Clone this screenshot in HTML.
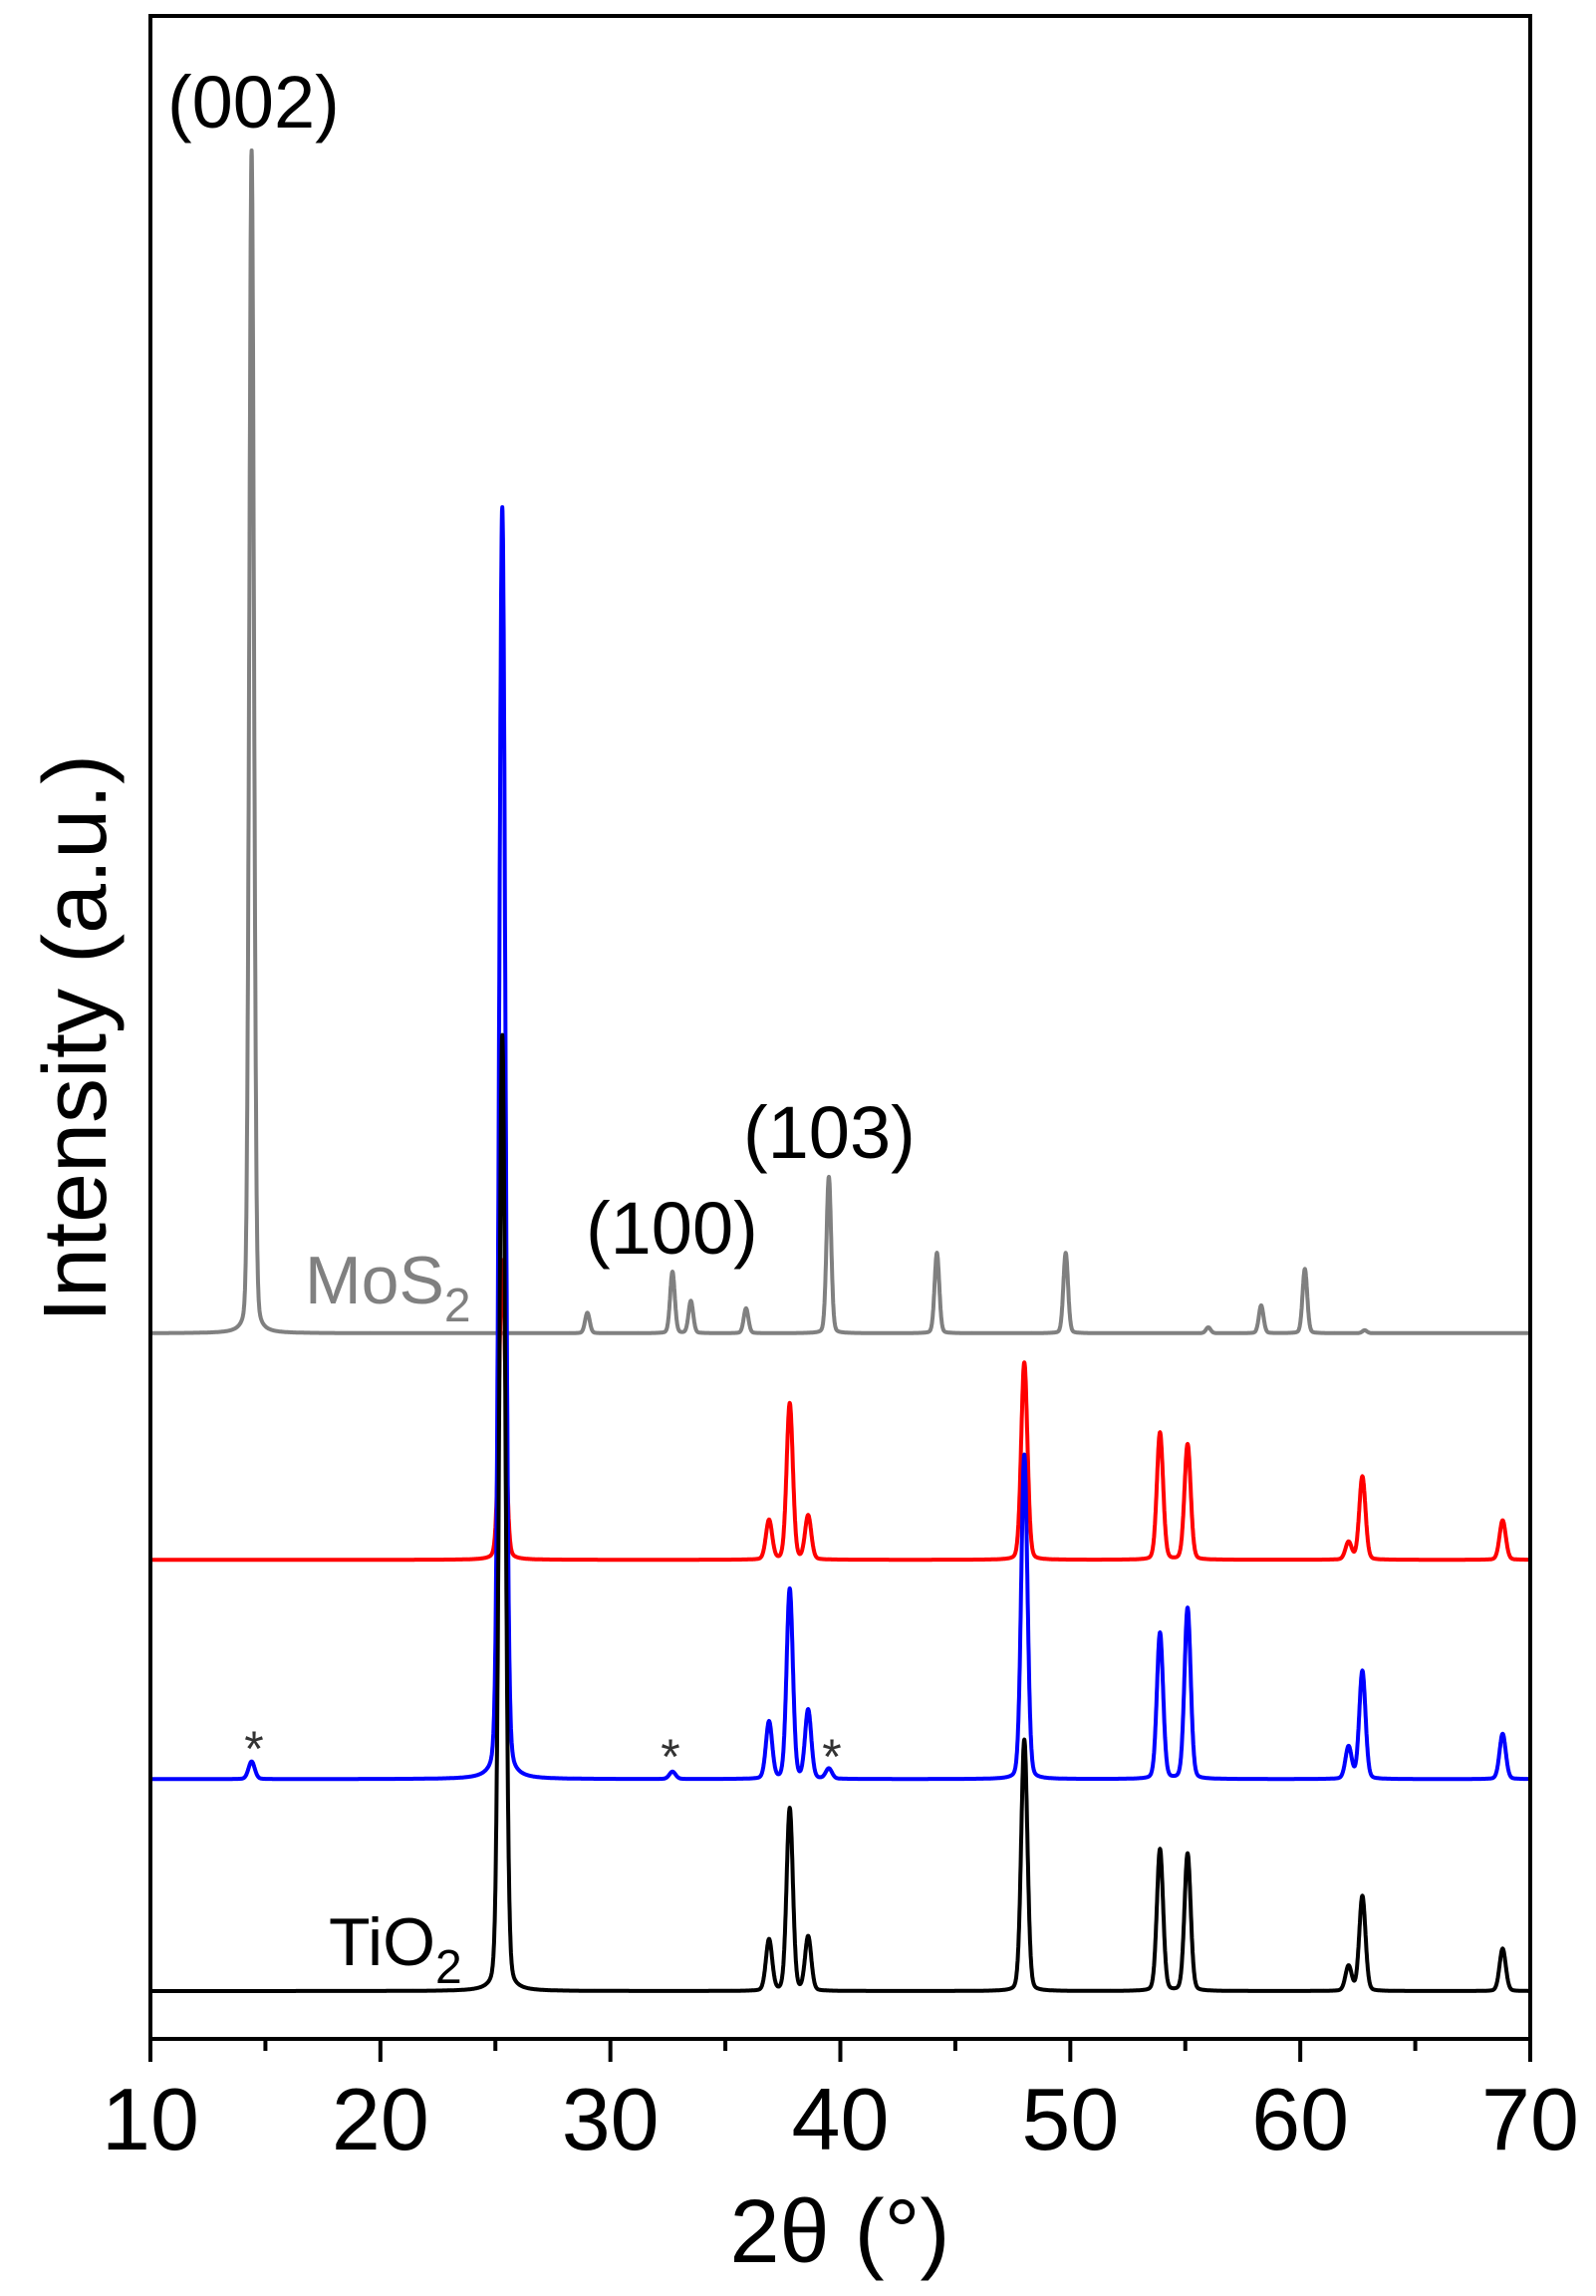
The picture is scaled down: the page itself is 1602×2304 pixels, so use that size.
<!DOCTYPE html>
<html><head><meta charset="utf-8"><style>
html,body{margin:0;padding:0;background:#fff;}
svg{display:block;font-family:"Liberation Sans",Arial,sans-serif;}
</style></head><body>
<svg id="chart" width="1602" height="2304" viewBox="0 0 1602 2304" xmlns="http://www.w3.org/2000/svg">
<g id="series"></g>
<g id="axes"></g>
<text x="168" y="128" font-size="74" fill="#000">(002)</text>
<text x="588" y="1258" font-size="74" fill="#000">(100)</text>
<text x="746" y="1162" font-size="74" fill="#000">(103)</text>
<text x="306" y="1308" font-size="68" fill="#808080">MoS<tspan font-size="48" dy="18">2</tspan></text>
<text x="330" y="1972" font-size="68" fill="#000">TiO<tspan font-size="48" dy="18">2</tspan></text>
<text x="255" y="1772" font-size="50" fill="#333" text-anchor="middle">*</text>
<text x="673" y="1780" font-size="50" fill="#333" text-anchor="middle">*</text>
<text x="835" y="1780" font-size="50" fill="#333" text-anchor="middle">*</text>
<text x="843" y="2270" font-size="90" text-anchor="middle" fill="#000">2θ (°)</text>
<text transform="translate(106,1042) rotate(-90)" font-size="90" text-anchor="middle" fill="#000">Intensity (a.u.)</text>
</svg>
<script>
const xTicks = [10, 20, 30, 40, 50, 60, 70];
const xMinor = [15, 25, 35, 45, 55, 65];
// peak positions (deg) and heights (a.u.) per series
const mosPos = [14.4, 29.0, 32.7, 33.5, 35.9, 39.5, 44.2, 49.8, 56.0, 58.3, 60.2, 62.8];
const mosH   = [809, 14, 42, 22, 17, 107, 55, 55, 4, 19, 44, 2];
const redPos = [25.3, 36.9, 37.8, 38.6, 48.0, 53.9, 55.1, 62.1, 62.7, 68.8];
const redH   = [205, 27, 107, 30, 135, 87, 79, 12, 57, 27];
const bluePos = [14.4, 25.3, 32.7, 36.9, 37.8, 38.6, 39.5, 48.0, 53.9, 55.1, 62.1, 62.7, 68.8];
const blueH   = [12, 870, 5, 39, 130, 47, 7, 222, 100, 117, 22, 74, 31];
const tiPos = [25.3, 36.9, 37.8, 38.6, 48.0, 53.9, 55.1, 62.1, 62.7, 68.8];
const tiH   = [654, 35, 125, 37, 172, 97, 94, 17, 65, 29];
const offsets = [450, 295, 145, 0]; // stacking offsets (a.u.): mos, red, blue, tio2

const X0 = 151, X1 = 1536, Y0 = 16, Y1 = 2046, BASE = 1998, K = 1.467;
const xs = v => X0 + (v - 10) / 60 * (X1 - X0);
const ys = v => BASE - v * K;
const NS = 'http://www.w3.org/2000/svg';
const sg = document.getElementById('series');
const ag = document.getElementById('axes');

function profile(x, pos, h, w) {
  let s = 0;
  for (let i = 0; i < pos.length; i++) {
    const d = (x - pos[i]) / w;
    s += h[i] * (0.85 * Math.exp(-d * d * 0.693) + 0.15 / (1 + d * d));
  }
  return s;
}
function drawSeries(pos, h, off, w, color, name) {
  let d = '';
  for (let i = 0; i <= 6000; i++) {
    const x = 10 + i * 0.01;
    const y = ys(off + profile(x, pos, h, w));
    d += (i ? 'L' : 'M') + xs(x).toFixed(1) + ' ' + y.toFixed(1);
  }
  const p = document.createElementNS(NS, 'path');
  p.setAttribute('d', d);
  p.setAttribute('fill', 'none');
  p.setAttribute('stroke', color);
  p.setAttribute('stroke-width', '4');
  p.setAttribute('stroke-linejoin', 'round');
  
  
  sg.appendChild(p);
}
drawSeries(mosPos, mosH, offsets[0], 0.12, '#808080', 'mos2-line');
drawSeries(redPos, redH, offsets[1], 0.16, '#ff0000', 'red-line');
drawSeries(bluePos, blueH, offsets[2], 0.16, '#0000ff', 'blue-line');
drawSeries(tiPos, tiH, offsets[3], 0.16, '#000000', 'tio2-line');

function line(x1, y1, x2, y2, w, name) {
  const l = document.createElementNS(NS, 'line');
  l.setAttribute('x1', x1); l.setAttribute('y1', y1);
  l.setAttribute('x2', x2); l.setAttribute('y2', y2);
  l.setAttribute('stroke', '#000'); l.setAttribute('stroke-width', w);
  
  
  ag.appendChild(l);
}
const frame = document.createElementNS(NS, 'rect');
frame.setAttribute('x', X0); frame.setAttribute('y', Y0);
frame.setAttribute('width', X1 - X0); frame.setAttribute('height', Y1 - Y0);
frame.setAttribute('fill', 'none'); frame.setAttribute('stroke', '#000'); frame.setAttribute('stroke-width', '4');


ag.appendChild(frame);
xTicks.forEach(t => {
  line(xs(t), Y1, xs(t), Y1 + 23, 4, 'x-major-tick');
  const tx = document.createElementNS(NS, 'text');
  tx.setAttribute('x', xs(t)); tx.setAttribute('y', 2157);
  tx.setAttribute('font-size', '88'); tx.setAttribute('text-anchor', 'middle');
  tx.textContent = t;
  
  
  ag.appendChild(tx);
});
xMinor.forEach(t => line(xs(t), Y1, xs(t), Y1 + 12, 4, 'x-minor-tick'));
</script>
</body></html>
